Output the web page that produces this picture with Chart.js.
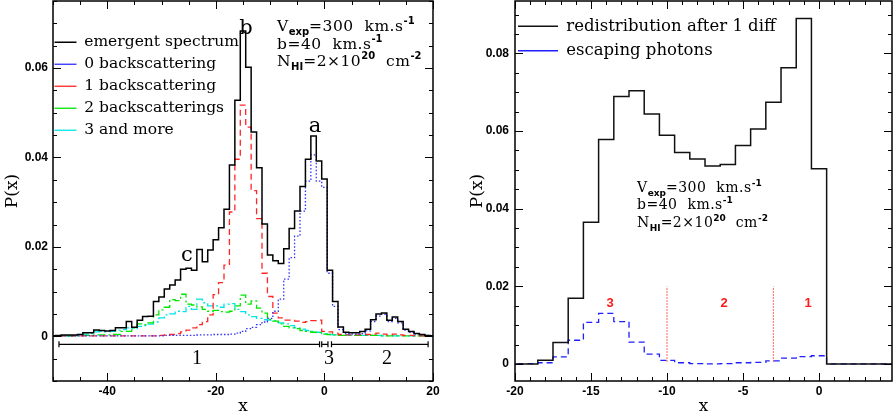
<!DOCTYPE html>
<html>
<head>
<meta charset="utf-8">
<script src="https://cdn.jsdelivr.net/npm/chart.js@4.4.1/dist/chart.umd.min.js"></script>
<style>
  body { margin: 0; background: #fff; }
  #wrap { position: relative; width: 893px; height: 417px; overflow: hidden; background: #fff; }
  canvas { position: absolute; top: 0; }
  #gauche { left: 0; }
  #droite { left: 450px; }
  .t { position: absolute; white-space: pre; color: #000; font-family: 'DejaVu Serif', serif; line-height: 1; z-index: 2; }
  .c { transform: translate(-50%, -50%); }
  .lo { position: relative; font-size: 10px; font-weight: bold; font-family: 'DejaVu Sans', sans-serif; letter-spacing: 0; }
  .sub { top: 4px; }
  .sup { top: -7px; }
  .petit .lo { font-size: 9px; }
  .petit .sub { top: 3.5px; }
  .petit .sup { top: -6px; }
  .rouge { color: #ff1a1a; font-family: 'Liberation Sans', sans-serif; font-weight: bold; font-size: 13px; }
  .chiffre { font-family: 'Liberation Serif', serif; font-size: 20px; }
</style>
</head>
<body>
<div id="wrap">
  <canvas id="gauche" width="450" height="417"></canvas>
  <canvas id="droite" width="443" height="417"></canvas>

  <!-- panneau gauche -->
  <div class="t" style="left:277px;top:19px;font-size:15.5px;letter-spacing:0.5px">V<span class="lo sub">exp</span>=300  km.s<span class="lo sup">-1</span></div>
  <div class="t" style="left:277px;top:37px;font-size:15.5px;letter-spacing:0.5px">b=40  km.s<span class="lo sup">-1</span></div>
  <div class="t" style="left:277px;top:54px;font-size:15.5px;letter-spacing:0.5px">N<span class="lo sub">HI</span>=2×10<span class="lo sup">20</span>  cm<span class="lo sup">-2</span></div>
  <div class="t c" style="left:246px;top:27px;font-size:21px">b</div>
  <div class="t c" style="left:315px;top:125px;font-size:21px">a</div>
  <div class="t c" style="left:187px;top:254px;font-size:21px">c</div>
  <div class="t c chiffre" style="left:197px;top:357px">1</div>
  <div class="t c chiffre" style="left:329px;top:357px">3</div>
  <div class="t c chiffre" style="left:387px;top:357px">2</div>

  <!-- panneau droit -->
  <div class="t petit" style="left:637px;top:180px;font-size:14px;letter-spacing:0.5px">V<span class="lo sub">exp</span>=300  km.s<span class="lo sup">-1</span></div>
  <div class="t petit" style="left:637px;top:197px;font-size:14px;letter-spacing:0.5px">b=40  km.s<span class="lo sup">-1</span></div>
  <div class="t petit" style="left:637px;top:215px;font-size:14px;letter-spacing:0.5px">N<span class="lo sub">HI</span>=2×10<span class="lo sup">20</span>  cm<span class="lo sup">-2</span></div>
  <div class="t c rouge" style="left:610px;top:302px">3</div>
  <div class="t c rouge" style="left:724px;top:302px">2</div>
  <div class="t c rouge" style="left:808px;top:302px">1</div>
</div>

<script>
// Panneau gauche : histogrammes, classes de largeur 1 centrées sur les entiers
const premiereClasseG = -50;

// -50 ... 20
const emergent = [
  0.0001, 0.0002, 0.0003, 0.0003, 0.0003, 0.0004, 0.0008, 0.0008, 0.0014, 0.0013,
  0.0012, 0.0013, 0.0019, 0.0019, 0.0033, 0.0020, 0.0036, 0.0044, 0.0045, 0.0078,
  0.0088, 0.0106, 0.0115, 0.0126, 0.0150, 0.0152, 0.0148, 0.0194, 0.0167, 0.0193,
  0.0216, 0.0243, 0.0284, 0.0383, 0.0528, 0.0683, 0.0602, 0.0457, 0.0377, 0.0251,
  0.0182, 0.0169, 0.0163, 0.0196, 0.0241, 0.0280, 0.0335, 0.0396, 0.0448, 0.0392,
  0.0352, 0.0148, 0.0078, 0.0021, 0.0009, 0.0008, 0.0008, 0.0011, 0.0016, 0.0037,
  0.0050, 0.0052, 0.0036, 0.0043, 0.0033, 0.0016, 0.0011, 0.0006, 0.0004, 0.0002,
  0.0001
];
const retro0 = [
  0.0001, 0.0001, 0.0001, 0.0001, 0.0001, 0.0001, 0.0001, 0.0001, 0.0001, 0.0001,
  0.0001, 0.0001, 0.0001, 0.0001, 0.0001, 0.0001, 0.0001, 0.0001, 0.0001, 0.0001,
  0.0001, 0.0002, 0.0002, 0.0002, 0.0002, 0.0002, 0.0002, 0.0003, 0.0003, 0.0003,
  0.0004, 0.0004, 0.0004, 0.0005, 0.0007, 0.0011, 0.0017, 0.0020, 0.0026, 0.0032,
  0.0040, 0.0056, 0.0083, 0.0128, 0.0176, 0.0224, 0.0280, 0.0347, 0.0406, 0.0347,
  0.0333, 0.0141, 0.0067, 0.0015, 0.0006, 0.0005, 0.0005, 0.0006, 0.0012, 0.0033,
  0.0045, 0.0049, 0.0033, 0.0040, 0.0030, 0.0014, 0.0009, 0.0005, 0.0003, 0.0002,
  0.0001
];
const retro1 = [
  0.0001, 0.0001, 0.0001, 0.0001, 0.0001, 0.0001, 0.0001, 0.0001, 0.0001, 0.0001,
  0.0001, 0.0001, 0.0001, 0.0001, 0.0001, 0.0001, 0.0001, 0.0001, 0.0001, 0.0001,
  0.0002, 0.0003, 0.0004, 0.0006, 0.0010, 0.0014, 0.0019, 0.0026, 0.0033, 0.0048,
  0.0093, 0.0120, 0.0159, 0.0278, 0.0396, 0.0517, 0.0468, 0.0326, 0.0263, 0.0141,
  0.0089, 0.0052, 0.0041, 0.0036, 0.0036, 0.0034, 0.0031, 0.0033, 0.0035, 0.0036,
  0.0011, 0.0010, 0.0007, 0.0004, 0.0003, 0.0003, 0.0003, 0.0004, 0.0004, 0.0005,
  0.0007, 0.0005, 0.0003, 0.0005, 0.0003, 0.0002, 0.0002, 0.0001, 0.0001, 0.0001,
  0.0001
];
const retro2 = [
  0.0001, 0.0001, 0.0001, 0.0001, 0.0001, 0.0001, 0.0002, 0.0002, 0.0003, 0.0003,
  0.0003, 0.0004, 0.0004, 0.0011, 0.0011, 0.0019, 0.0028, 0.0026, 0.0030, 0.0048,
  0.0059, 0.0065, 0.0082, 0.0080, 0.0094, 0.0072, 0.0070, 0.0066, 0.0060, 0.0056,
  0.0058, 0.0055, 0.0054, 0.0056, 0.0068, 0.0092, 0.0072, 0.0079, 0.0063, 0.0052,
  0.0038, 0.0034, 0.0028, 0.0022, 0.0019, 0.0017, 0.0013, 0.0011, 0.0009, 0.0008,
  0.0005, 0.0004, 0.0003, 0.0002, 0.0002, 0.0002, 0.0002, 0.0002, 0.0002, 0.0002,
  0.0002, 0.0001, 0.0001, 0.0001, 0.0001, 0.0001, 0.0001, 0.0001, 0.0001, 0.0001,
  0.0001
];
const retro3 = [
  0.0001, 0.0001, 0.0001, 0.0001, 0.0001, 0.0002, 0.0005, 0.0006, 0.0010, 0.0011,
  0.0010, 0.0011, 0.0014, 0.0015, 0.0019, 0.0017, 0.0022, 0.0024, 0.0027, 0.0032,
  0.0041, 0.0048, 0.0050, 0.0056, 0.0055, 0.0067, 0.0060, 0.0083, 0.0075, 0.0068,
  0.0068, 0.0065, 0.0072, 0.0073, 0.0060, 0.0055, 0.0048, 0.0044, 0.0040, 0.0037,
  0.0036, 0.0035, 0.0030, 0.0028, 0.0024, 0.0019, 0.0016, 0.0013, 0.0011, 0.0009,
  0.0006, 0.0004, 0.0003, 0.0002, 0.0002, 0.0002, 0.0002, 0.0002, 0.0002, 0.0002,
  0.0002, 0.0001, 0.0001, 0.0001, 0.0001, 0.0001, 0.0001, 0.0001, 0.0001, 0.0001,
  0.0001
];

// Panneau droit : -20 ... 5
const premiereClasseD = -20;
const redistribution = [
  0, 0, 0.00095, 0.0055, 0.0169, 0.0365, 0.0578, 0.0689, 0.0704, 0.0644,
  0.0589, 0.0545, 0.0528, 0.0510, 0.0514, 0.0563, 0.0605, 0.0674, 0.0763, 0.0890,
  0.0503, 0, 0, 0, 0, 0
];
const echappes = [
  0.0001, 0.0001, 0.0003, 0.0018, 0.0061, 0.0107, 0.0130, 0.0109, 0.0056, 0.0025,
  0.0009, 0.0003, 0.0001, 0.0000, 0.0001, 0.0003, 0.0004, 0.0008, 0.0015, 0.0019,
  0.0021, 0, 0, 0, 0, 0
];

// graduations
const ticksXG = [-40, -20, 0, 20];
const ticksYG = [0, 0.02, 0.04, 0.06];
const ticksXD = [-20, -15, -10, -5, 0];
const ticksYD = [0, 0.02, 0.04, 0.06, 0.08];

// séparations des zones (panneau droit)
const limitesZones = [-10, -3];
const zoneBas = 0.0006;
const zoneHaut = 0.02;

// accolades sous le spectre (panneau gauche)
const accoladeDebut = [-48.9, -0.5, 1.3];
const accoladeFin = [-0.9, 0.65, 19.1];
const accoladeY = -0.0018;

// points d'un histogramme (bords inclus)
function histo(valeurs, premiere) {
  const pts = valeurs.map((v, i) => ({ x: premiere + i, y: v }));
  pts.unshift({ x: premiere - 0.5, y: valeurs[0] });
  pts.push({ x: premiere + valeurs.length - 0.5, y: valeurs[valeurs.length - 1] });
  return pts;
}

const policeTicks = { family: 'Liberation Sans', size: 12, weight: 'bold' };
const policeTitre = { family: 'DejaVu Serif', size: 17 };

// cadre + petites graduations vers l'intérieur sur les 4 côtés
const cadre = {
  id: 'cadre',
  afterDatasetsDraw(chart, args, o) {
    const { ctx, chartArea: a } = chart;
    const sx = chart.scales.x, sy = chart.scales.y;
    ctx.save();
    ctx.strokeStyle = '#000';
    ctx.lineWidth = 1;
    function graduer(scale, pas, long, horiz) {
      for (let k = Math.ceil(scale.min / pas - 1e-6); k * pas <= scale.max + 1e-9; k++) {
        const p = Math.round(scale.getPixelForValue(k * pas)) + 0.5;
        ctx.beginPath();
        if (horiz) {
          ctx.moveTo(p, a.bottom); ctx.lineTo(p, a.bottom - long);
          ctx.moveTo(p, a.top); ctx.lineTo(p, a.top + long);
        } else {
          ctx.moveTo(a.left, p); ctx.lineTo(a.left + long, p);
          ctx.moveTo(a.right, p); ctx.lineTo(a.right - long, p);
        }
        ctx.stroke();
      }
    }
    graduer(sx, o.xMineur, 4, true);
    graduer(sx, o.xMajeur, 8, true);
    graduer(sy, o.yMineur, 4, false);
    graduer(sy, o.yMajeur, 8, false);
    ctx.lineWidth = 1.5;
    ctx.strokeRect(a.left, a.top, a.right - a.left, a.bottom - a.top);
    ctx.restore();
  }
};

const accolades = {
  id: 'accolades',
  afterDatasetsDraw(chart) {
    const { ctx } = chart;
    const sx = chart.scales.x, sy = chart.scales.y;
    const y = sy.getPixelForValue(accoladeY);
    ctx.save();
    ctx.strokeStyle = '#000';
    ctx.lineWidth = 1.2;
    accoladeDebut.forEach((d, i) => {
      const x0 = sx.getPixelForValue(d), x1 = sx.getPixelForValue(accoladeFin[i]);
      ctx.beginPath();
      ctx.moveTo(x0, y - 3); ctx.lineTo(x0, y + 3);
      ctx.moveTo(x0, y); ctx.lineTo(x1, y);
      ctx.moveTo(x1, y - 3); ctx.lineTo(x1, y + 3);
      ctx.stroke();
    });
    ctx.restore();
  }
};

// place la légende dans le cadre
const placeLegende = {
  id: 'placeLegende',
  afterLayout(chart, args, o) {
    if (!chart.legend) return;
    chart.legend.left = o.left;
    chart.legend.top = o.top;
    chart.legend.bottom = chart.chartArea.bottom;
  }
};

function axeX(min, max, ticks, hauteur) {
  return {
    type: 'linear', min: min, max: max,
    grid: { display: false, drawTicks: false }, border: { display: false },
    afterBuildTicks: s => { s.ticks = ticks.map(v => ({ value: v })); },
    afterFit: s => { s.height = hauteur; s.paddingLeft = 0; s.paddingRight = 0; },
    ticks: { padding: 3, color: '#000', font: policeTicks, maxRotation: 0, autoSkip: false },
    title: { display: true, text: 'x', color: '#000', font: policeTitre, padding: { top: 0, bottom: 0 } }
  };
}
function axeY(min, max, ticks, largeur, pad, padTitre) {
  return {
    type: 'linear', min: min, max: max,
    grid: { display: false, drawTicks: false }, border: { display: false },
    afterBuildTicks: s => { s.ticks = ticks.map(v => ({ value: v })); },
    afterFit: s => { s.width = largeur; s.paddingTop = 0; s.paddingBottom = 0; },
    ticks: { padding: pad, color: '#000', font: policeTicks, autoSkip: false,
             callback: v => v === 0 ? '0' : v.toFixed(2) },
    title: { display: true, text: 'P(x)', color: '#000', font: policeTitre, padding: { top: padTitre, bottom: 0 } }
  };
}

new Chart(document.getElementById('gauche'), {
  type: 'line',
  data: {
    datasets: [
      { label: 'emergent spectrum', data: histo(emergent, premiereClasseG), borderColor: '#000', borderWidth: 1.5 },
      { label: '0 backscattering', data: histo(retro0, premiereClasseG), borderColor: '#3030ff', borderWidth: 1.3, borderDash: [1.5, 2] },
      { label: '1 backscattering', data: histo(retro1, premiereClasseG), borderColor: '#ff2626', borderWidth: 1.3, borderDash: [6, 4] },
      { label: '2 backscatterings', data: histo(retro2, premiereClasseG), borderColor: '#00e600', borderWidth: 1.3, borderDash: [8, 3, 2, 3] },
      { label: '3 and more', data: histo(retro3, premiereClasseG), borderColor: '#00e6e6', borderWidth: 1.3, borderDash: [8, 3, 2, 3] }
    ]
  },
  options: {
    responsive: false, animation: false, devicePixelRatio: 1,
    layout: { autoPadding: false, padding: { top: 1, right: 17, left: 0, bottom: 0 } },
    datasets: { line: { stepped: 'middle', pointRadius: 0, tension: 0, fill: false } },
    scales: {
      x: axeX(-50, 20, ticksXG, 36),
      y: axeY(-0.01, 0.075, ticksYG, 53, 5, 2)
    },
    plugins: {
      legend: {
        position: 'chartArea', align: 'start',
        labels: { usePointStyle: true, pointStyle: 'line', pointStyleWidth: 22, color: '#000',
                  font: { family: 'DejaVu Serif', size: 15.5 }, padding: 6.5 }
      },
      tooltip: { enabled: false },
      cadre: { xMajeur: 20, xMineur: 5, yMajeur: 0.02, yMineur: 0.005 },
      placeLegende: { left: 48, top: 28 }
    }
  },
  plugins: [cadre, accolades, placeLegende]
});

new Chart(document.getElementById('droite'), {
  type: 'line',
  data: {
    datasets: [
      { label: 'redistribution after 1 diff', data: histo(redistribution, premiereClasseD), borderColor: '#111', borderWidth: 1.5 },
      { label: 'escaping photons', data: histo(echappes, premiereClasseD), borderColor: '#1f1fff', borderWidth: 1.3, borderDash: [6, 4] },
      ...limitesZones.map(xz => ({
        label: '', data: [{ x: xz, y: zoneBas }, { x: xz, y: zoneHaut }],
        borderColor: '#ff0000', borderWidth: 1.2, borderDash: [1, 2], stepped: false
      }))
    ]
  },
  options: {
    responsive: false, animation: false, devicePixelRatio: 1,
    layout: { autoPadding: false, padding: { top: 1, right: 1, left: 0, bottom: 0 } },
    datasets: { line: { stepped: 'middle', pointRadius: 0, tension: 0, fill: false } },
    scales: {
      x: axeX(-20, 4.8, ticksXD, 36),
      y: axeY(-0.0044, 0.0935, ticksYD, 65, 6, 17)
    },
    plugins: {
      legend: {
        position: 'chartArea', align: 'start',
        labels: { usePointStyle: true, pointStyle: 'line', pointStyleWidth: 40, color: '#000',
                  font: { family: 'DejaVu Serif', size: 16.5 }, padding: 8,
                  filter: it => it.datasetIndex < 2 }
      },
      tooltip: { enabled: false },
      cadre: { xMajeur: 5, xMineur: 1, yMajeur: 0.02, yMineur: 0.005 },
      placeLegende: { left: 60, top: 10 }
    }
  },
  plugins: [cadre, placeLegende]
});
</script>
</body>
</html>
